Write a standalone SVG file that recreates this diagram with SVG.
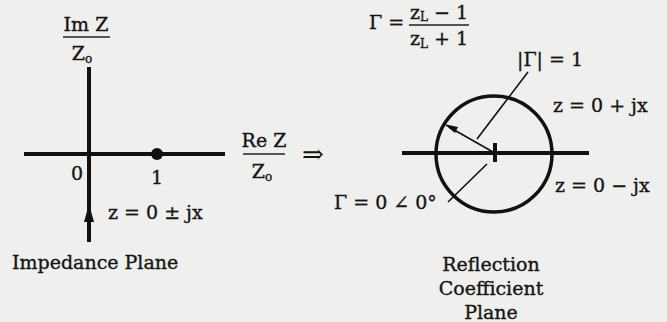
<svg xmlns="http://www.w3.org/2000/svg" width="667" height="322" viewBox="0 0 667 322">
<defs>
<style>
text{font-family:"DejaVu Serif","Liberation Serif",serif;font-size:19px;fill:#151515;stroke:#151515;stroke-width:0.35}
.sub{font-size:12px}
.ax{stroke:#111;stroke-width:4;fill:none}
.thin{stroke:#111;stroke-width:1.6;fill:none}
.fr{stroke:#222;stroke-width:1.5}
.mid{text-anchor:middle}
</style>
</defs>
<rect width="667" height="322" fill="#efefed"/>

<g id="impedance-plane">
<line class="ax" x1="24" y1="154" x2="225" y2="154"/>
<line class="ax" x1="89" y1="67" x2="89" y2="242"/>
<circle cx="157" cy="154" r="6" fill="#111"/>
<path d="M89,204 L94,222 L84,222 z" fill="#111"/>
<text x="77" y="180" class="mid">0</text>
<text x="157" y="184" class="mid">1</text>
<text x="108" y="219">z = 0 ± jx</text>
<text x="12" y="269">Impedance Plane</text>
</g>

<g id="im-label">
<text x="86" y="31" class="mid">Im Z</text>
<line class="fr" x1="63" y1="37" x2="110" y2="37"/>
<text x="82" y="60" class="mid">Z<tspan class="sub" dy="3">o</tspan></text>
</g>

<g id="re-label">
<text x="264" y="147" class="mid">Re Z</text>
<line class="fr" x1="243" y1="154" x2="285" y2="154"/>
<text x="262" y="178" class="mid">Z<tspan class="sub" dy="3">o</tspan></text>
<text x="313" y="163" class="mid" style="font-size:26px;stroke-width:0">⇒</text>
</g>

<g id="gamma-formula">
<text x="369" y="29">Γ =</text>
<text x="439" y="19" class="mid">z<tspan class="sub" dy="2">L</tspan><tspan dy="-2"> − 1</tspan></text>
<line class="fr" x1="409" y1="25" x2="469" y2="25"/>
<text x="439" y="45" class="mid">z<tspan class="sub" dy="3">L</tspan><tspan dy="-3"> + 1</tspan></text>
</g>

<g id="reflection-plane">
<line class="ax" x1="402" y1="153" x2="589" y2="153"/>
<circle cx="494" cy="154" r="58" fill="none" stroke="#111" stroke-width="3.5"/>
<line x1="495" y1="143" x2="495" y2="162" stroke="#111" stroke-width="4"/>
<line class="thin" x1="493" y1="152" x2="449" y2="127" stroke-width="2.5"/>
<path d="M444,124 L458,127 L455,133 z" fill="#111"/>
<text x="553" y="112">z = 0 + jx</text>
<text x="555" y="192">z = 0 − jx</text>
<text x="491" y="271" class="mid">Reflection</text>
<text x="491" y="295" class="mid">Coefficient</text>
<text x="491" y="319" class="mid">Plane</text>
</g>

<g id="connectors">
<line class="thin" x1="477" y1="139" x2="528" y2="72"/>
<line class="thin" x1="487" y1="164" x2="448" y2="202"/>
</g>

<g id="gamma-mag-label">
<text x="517" y="66">|Γ| = 1</text>
</g>
<g id="gamma-zero-label">
<text x="334" y="209">Γ = 0 ∠ 0°</text>
</g>
</svg>
